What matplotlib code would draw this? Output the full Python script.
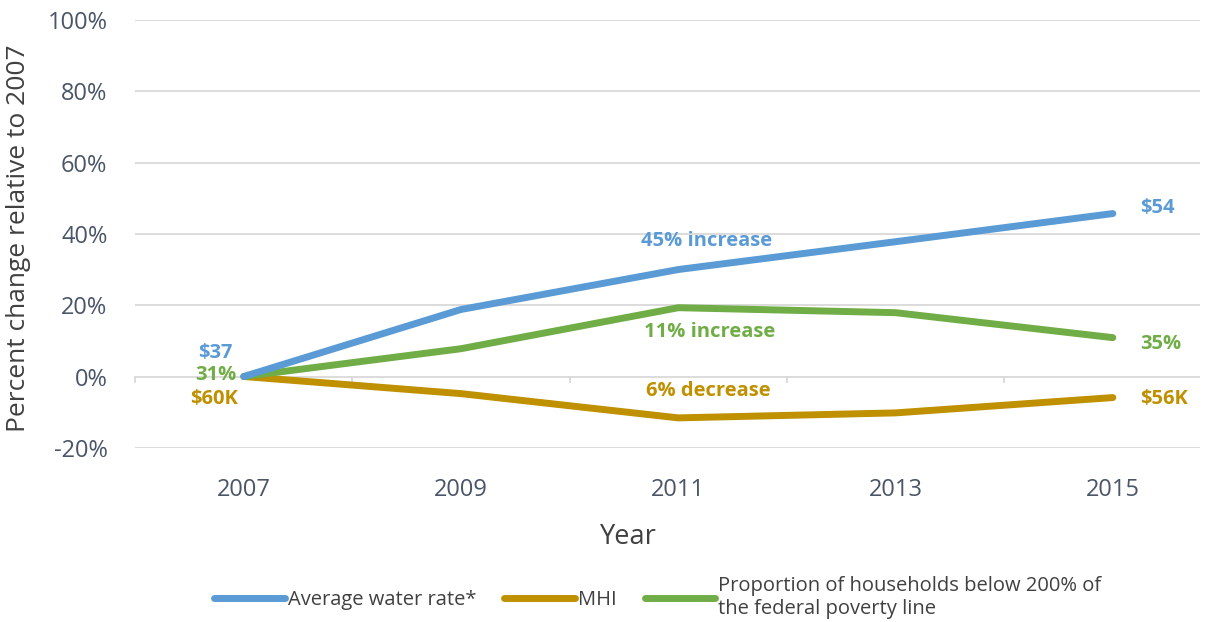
import matplotlib
matplotlib.use("Agg")
import matplotlib.pyplot as plt
from matplotlib.lines import Line2D

plt.rcParams['font.family'] = ['Open Sans', 'DejaVu Sans']

years = [2007, 2009, 2011, 2013, 2015]
water_rate = [0, 18.8, 30.0, 37.8, 45.7]
mhi = [0, -4.8, -11.6, -10.2, -5.9]
poverty = [0, 7.8, 19.3, 17.9, 10.9]

labels = ["Average water rate*", "MHI",
          "Proportion of households below 200% of\nthe federal poverty line"]
blue = "#5b9bd5"
gold = "#bf9000"
green = "#70ad47"
tickc = "#4a5568"
textc = "#404040"

fig = plt.figure(figsize=(12.18, 6.22), dpi=100)
ax = fig.add_axes([0.111, 0.280, 0.874, 0.688])

for v in range(-20, 101, 20):
    ax.axhline(v, color="#d9d9d9", lw=1.3, zorder=0)

# category tick marks on the zero line
for t in [2006, 2008, 2010, 2012, 2014]:
    ax.plot([t, t], [0, -1.4], color="#d9d9d9", lw=1.3, zorder=0, clip_on=False)

ax.plot(years, water_rate, color=blue, lw=5, solid_capstyle="round", zorder=3)
ax.plot(years, poverty, color=green, lw=5, solid_capstyle="round", zorder=2)
ax.plot(years, mhi, color=gold, lw=5, solid_capstyle="round", zorder=1)

ax.set_xlim(2006, 2015.8)
ax.set_ylim(-20, 100)
ax.set_yticks(range(-20, 101, 20))
ax.set_yticklabels([f"{v}%" for v in range(-20, 101, 20)])
ax.set_xticks(years)
ax.tick_params(length=0, labelsize=17, labelcolor=tickc)
ax.tick_params(axis="x", pad=22)
ax.tick_params(axis="y", pad=20)
for s in ax.spines.values():
    s.set_visible(False)

ax.set_ylabel("Percent change relative to 2007", fontsize=19, color=textc)
ax.yaxis.set_label_coords(-0.098, 0.49)
ax.set_xlabel("Year", fontsize=19.5, color=textc)
ax.xaxis.set_label_coords(0.463, -0.176)

bold = dict(fontsize=14.5, fontweight="bold", ha="center", va="center")
ax.text(2006.74, 6.6, "$37", color=blue, **bold)
ax.text(2006.74, 0.5, "31%", color=green, **bold)
ax.text(2006.73, -6.2, "$60K", color=gold, **bold)
ax.text(2011.26, 38.0, "45% increase", color=blue, **bold)
ax.text(2011.29, 12.6, "11% increase", color=green, **bold)
ax.text(2011.28, -4.2, "6% decrease", color=gold, **bold)
side = dict(fontsize=14.5, fontweight="bold", ha="left", va="center")
ax.text(2015.25, 47.3, "$54", color=blue, **side)
ax.text(2015.25, 9.2, "35%", color=green, **side)
ax.text(2015.25, -6.4, "$56K", color=gold, **side)

handles = [Line2D([], [], color=c, lw=5, solid_capstyle="round") for c in (blue, gold, green)]
fig.legend(handles, labels, loc="center", bbox_to_anchor=(0.54, 0.04), ncol=3,
           frameon=False, fontsize=14.5, handlelength=3.5, handletextpad=0.15,
           columnspacing=1.4, labelcolor=textc, labelspacing=0.1)

fig.savefig("out.png", dpi=100)
